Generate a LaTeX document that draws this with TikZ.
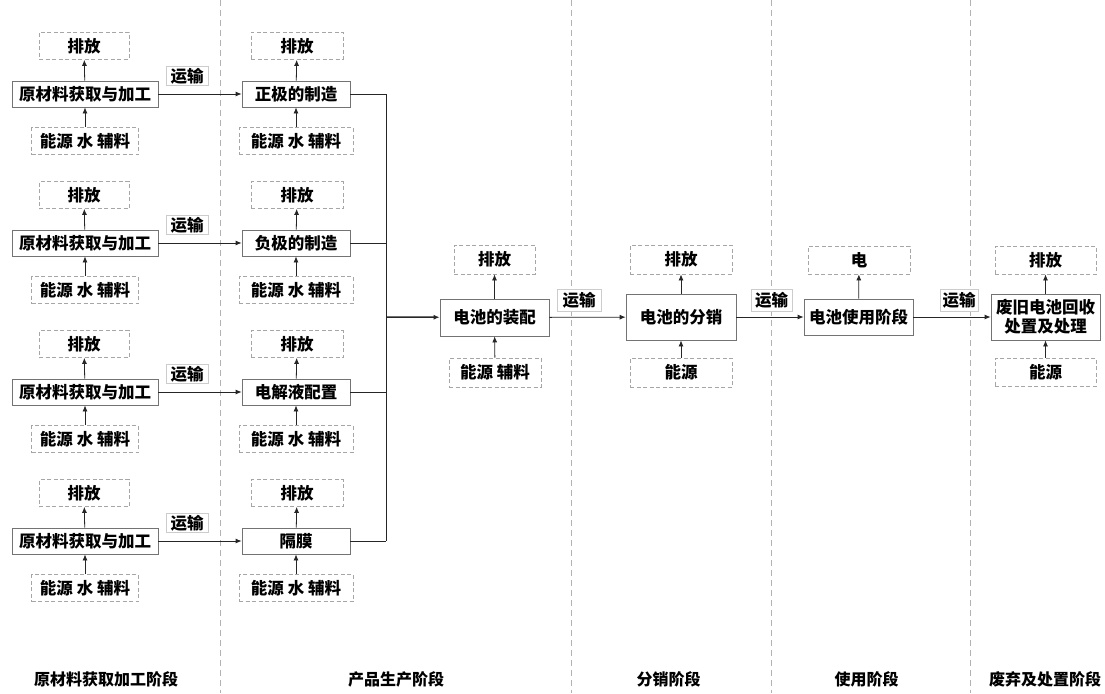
\documentclass[tikz,border=0pt]{standalone}
\usepackage{fontspec}
\newfontfamily\cjk{Noto Sans CJK SC}
\usetikzlibrary{arrows.meta}
\begin{document}
\begin{tikzpicture}[x=1pt,y=-1pt,
  every node/.style={font=\cjk\bfseries\fontsize{16.5}{19}\selectfont, inner sep=0pt, align=center},
  proc/.style={draw=black!55, line width=0.8pt, fill=white},
  dbox/.style={draw=black!35, dashed, dash pattern=on 4pt off 2.5pt, line width=0.8pt, fill=white},
  tlab/.style={draw=black!20, line width=0.8pt, fill=white, minimum width=42, minimum height=19},
  arr/.style={-{Latex[length=6pt,width=5pt]}, line width=0.8pt, draw=black!85},
  ln/.style={line width=0.8pt, draw=black!85},
  divider/.style={draw=black!30, dashed, dash pattern=on 6pt off 4pt, line width=0.7pt},
  stage/.style={font=\cjk\bfseries\fontsize{16}{18}\selectfont}
]
\useasboundingbox (0,0) rectangle (1105,693);
\fill[white] (0,0) rectangle (1105,693);
% dividers
\draw[divider] (220,0) -- (220,693);
\draw[divider] (571,0) -- (571,693);
\draw[divider] (771,0) -- (771,693);
\draw[divider] (970,0) -- (970,693);
% rows
\foreach \r/\ry/\name in {1/94/正极的制造, 2/243/负极的制造, 3/392/电解液配置, 4/541/隔膜}{
  \node[proc, minimum width=146, minimum height=26] (raw\r) at (85,\ry) {原材料获取与加工};
  \node[dbox, minimum width=90, minimum height=27] (rawout\r) at (84,\ry-48) {排放};
  \node[dbox, minimum width=107, minimum height=27] (rawin\r) at (85,\ry+47) {能源 水 辅料};
  \node[proc, minimum width=108, minimum height=26] (mfg\r) at (296,\ry) {\name};
  \node[dbox, minimum width=92, minimum height=27] (mfgout\r) at (297,\ry-48) {排放};
  \node[dbox, minimum width=114, minimum height=27] (mfgin\r) at (296,\ry+47) {能源 水 辅料};
  \node[tlab] (t\r) at (187,\ry-18) {运输};
  \draw[arr] (raw\r) -- (rawout\r);
  \draw[arr] (rawin\r) -- (raw\r);
  \draw[arr] (mfg\r) -- (mfgout\r);
  \draw[arr] (mfgin\r) -- (mfg\r);
  \draw[arr] (raw\r) -- (mfg\r);
  \coordinate (bus\r) at (386,\ry);
  \draw[ln] (mfg\r.east) -- (bus\r);
}
\draw[ln] (bus1) -- (bus4);
\coordinate (busm) at (386,317);
% assembly
\node[proc, minimum width=109, minimum height=37] (asm) at (494.5,317.5) {电池的装配};
\node[dbox, minimum width=81, minimum height=29] (asmout) at (494.5,259.5) {排放};
\node[dbox, minimum width=92, minimum height=29] (asmin) at (495,372.5) {能源 辅料};
\draw[arr, line width=1.5pt] (busm) -- (asm);
\draw[arr] (asm) -- (asmout);
\draw[arr] (asmin) -- (asm);
% distribution
\node[proc, minimum width=110, minimum height=46] (dist) at (681,317) {电池的分销};
\node[dbox, minimum width=102, minimum height=29] (distout) at (681,259.5) {排放};
\node[dbox, minimum width=102, minimum height=29] (distin) at (681,372.5) {能源};
\draw[arr] (asm) -- (dist);
\node[tlab, minimum width=44, minimum height=22] (ta) at (579,300) {运输};
\draw[arr] (dist) -- (distout);
\draw[arr] (distin) -- (dist);
% use
\node[proc, minimum width=109, minimum height=36] (use) at (858.5,317) {电池使用阶段};
\node[dbox, minimum width=102, minimum height=28] (useout) at (859,260) {电};
\draw[arr] (dist) -- (use);
\node[tlab, minimum width=41, minimum height=22] (tb) at (771.5,300) {运输};
\draw[arr] (use) -- (useout);
% disposal
\node[proc, minimum width=109, minimum height=46] (disp) at (1045.5,317) {废旧电池回收\\处置及处理};
\node[dbox, minimum width=101, minimum height=28] (dispout) at (1045.5,260) {排放};
\node[dbox, minimum width=101, minimum height=28] (dispin) at (1045.5,372) {能源};
\draw[arr] (use) -- (disp);
\node[tlab, minimum width=38, minimum height=22] (tc) at (959,300) {运输};
\draw[arr] (disp) -- (dispout);
\draw[arr] (dispin) -- (disp);
% stage labels
\node[stage] (s1) at (106,679) {原材料获取加工阶段};
\node[stage] (s2) at (396,679) {产品生产阶段};
\node[stage] (s3) at (668.5,679) {分销阶段};
\node[stage] (s4) at (866.5,679) {使用阶段};
\node[stage] (s5) at (1045,679) {废弃及处置阶段};
\end{tikzpicture}
\end{document}
